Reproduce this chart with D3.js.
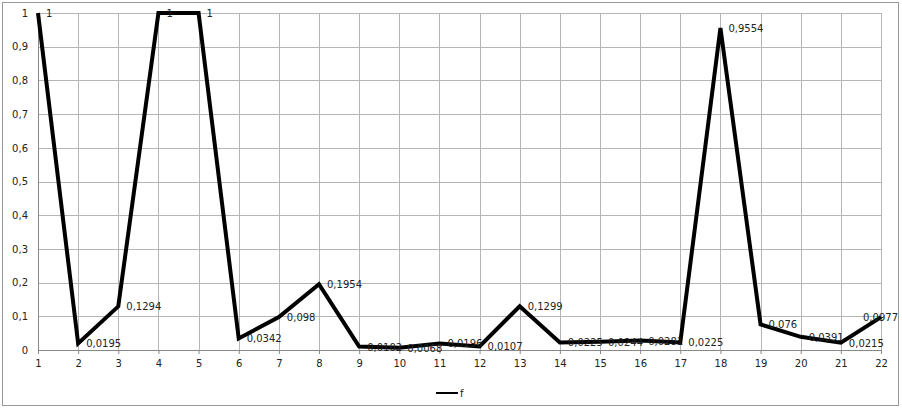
<html>
<head>
  <meta charset="utf-8">
  <script src="https://d3js.org/d3.v7.min.js"></script>
  <style>
    body { margin: 0; background: #fff; }
    text { font-family: "DejaVu Sans", Verdana, sans-serif; fill: #222; }
  </style>
</head>
<body>
  <svg id="chart" width="902" height="410"></svg>
  <script>
    // chart data
    var categories = [1, 2, 3, 4, 5, 6, 7, 8, 9, 10, 11, 12, 13, 14, 15, 16, 17, 18, 19, 20, 21, 22];
    var values = [1, 0.0195, 0.1294, 1, 1, 0.0342, 0.098, 0.1954, 0.0102, 0.0068, 0.0196, 0.0107,
                  0.1299, 0.0225, 0.0244, 0.0281, 0.0225, 0.9554, 0.076, 0.0391, 0.0215, 0.0977];
    var yTicks = [0, 0.1, 0.2, 0.3, 0.4, 0.5, 0.6, 0.7, 0.8, 0.9, 1];
    var seriesName = "f";

    var data = categories.map(function (c, i) { return { cat: c, val: values[i] }; });
    var fmt = function (v) { return String(v).replace(".", ","); };

    var svg = d3.select("#chart");

    // outer frame
    svg.append("rect")
      .attr("x", 2.5).attr("y", 2.5)
      .attr("width", 896).attr("height", 403)
      .attr("fill", "#fff")
      .attr("stroke", "#999")
      .attr("stroke-width", 1);

    var margin = { top: 13, right: 21, bottom: 60, left: 38 },
      width = 902 - margin.left - margin.right,
      height = 410 - margin.top - margin.bottom;

    var chart = svg.append("g")
      .attr("transform", "translate(" + margin.left + "," + margin.top + ")");

    var xScale = d3.scalePoint()
      .domain(categories)
      .range([0, width]);

    var yScale = d3.scaleLinear()
      .domain([0, 1])
      .range([height, 0]);

    // grid
    chart.append("g")
      .selectAll("line.h")
      .data(yTicks)
      .enter()
      .append("line")
      .attr("x1", 0).attr("x2", width)
      .attr("y1", d => Math.round(yScale(d)) + 0.5)
      .attr("y2", d => Math.round(yScale(d)) + 0.5)
      .attr("stroke", "#b5b5b5");

    chart.append("g")
      .selectAll("line.v")
      .data(categories)
      .enter()
      .append("line")
      .attr("x1", d => Math.round(xScale(d)) + 0.5)
      .attr("x2", d => Math.round(xScale(d)) + 0.5)
      .attr("y1", 0).attr("y2", height)
      .attr("stroke", "#b5b5b5");

    // axes
    var xAxis = chart.append("g")
      .attr("transform", "translate(0," + height + ")")
      .call(d3.axisBottom(xScale).tickSize(4).tickPadding(6));
    xAxis.select(".domain").attr("stroke", "#888");
    xAxis.selectAll(".tick line").attr("stroke", "#888");
    xAxis.selectAll("text").attr("font-size", 10).style("font-family", "DejaVu Sans, sans-serif").attr("fill", "#222");

    var yAxis = chart.append("g")
      .call(d3.axisLeft(yScale).tickValues(yTicks).tickFormat(fmt).tickSize(0).tickPadding(10));
    yAxis.select(".domain").attr("stroke", "#888");
    yAxis.selectAll("text").attr("font-size", 10).style("font-family", "DejaVu Sans, sans-serif").attr("fill", "#222");

    // line
    var line = d3.line()
      .x(d => xScale(d.cat))
      .y(d => yScale(d.val));

    chart.append("path")
      .datum(data)
      .attr("fill", "none")
      .attr("stroke", "#000")
      .attr("stroke-width", 4)
      .attr("stroke-linejoin", "miter")
      .attr("d", line);

    // data labels (last one pulled back inside the frame)
    var lastCat = categories[categories.length - 1];
    chart.selectAll("text.lbl")
      .data(data)
      .enter()
      .append("text")
      .attr("class", "lbl")
      .attr("x", d => d.cat === lastCat ? xScale(d.cat) + 17 : xScale(d.cat) + 8)
      .attr("y", d => yScale(d.val) + 4)
      .attr("text-anchor", d => d.cat === lastCat ? "end" : "start")
      .attr("font-size", 10)
      .text(d => fmt(d.val));

    // legend
    var legend = svg.append("g")
      .attr("transform", "translate(436,393)");
    legend.append("line")
      .attr("x1", 0).attr("x2", 22)
      .attr("y1", 0).attr("y2", 0)
      .attr("stroke", "#000")
      .attr("stroke-width", 2);
    legend.append("text")
      .attr("x", 24).attr("y", 4)
      .attr("font-size", 10)
      .text(seriesName);
  </script>
</body>
</html>
